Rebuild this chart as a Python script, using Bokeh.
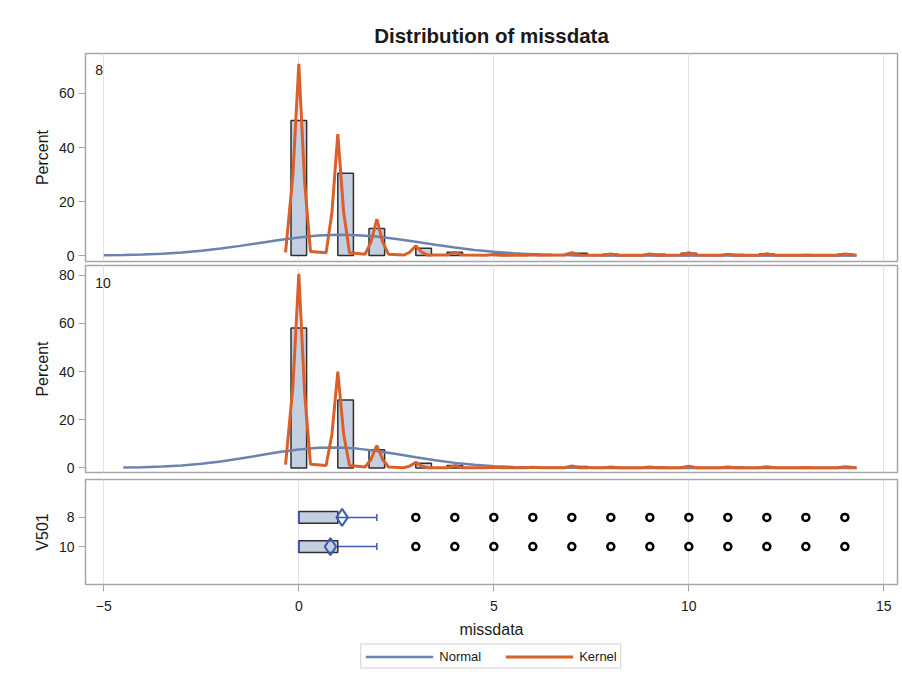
from bokeh.plotting import figure
from bokeh.layouts import column
from bokeh.models import (Range1d, FactorRange, Label, Legend, LegendItem,
                          Grid, FixedTicker)
from bokeh.embed import file_html
from bokeh.resources import INLINE

# ---------------- data ----------------
X_TICKS = [-5, 0, 5, 10, 15]
GROUPS = ["8", "10"]

BIN_MIDS = [0.0, 1.2, 2.0, 3.2, 4.0, 5.2, 6.0, 7.2, 8.0, 9.2, 10.0, 11.2, 12.0, 13.2, 14.0]
BIN_WIDTH = 0.4
PCT_8 = [50.0, 30.5, 10.0, 2.7, 1.2, 0.6, 0.5, 0.9, 0.5, 0.5, 0.9, 0.4, 0.6, 0.2, 0.5]
PCT_10 = [58.1, 28.2, 7.5, 1.9, 1.0, 0.3, 0.3, 0.6, 0.3, 0.3, 0.5, 0.3, 0.4, 0.1, 0.3]

NORM_X_8 = [-5.0, -4.5, -4.0, -3.5, -3.0, -2.5, -2.0, -1.5, -1.0, -0.5, 0.0, 0.5, 1.0, 1.5,
            2.0, 2.5, 3.0, 3.5, 4.0, 4.5, 5.0, 5.5, 6.0, 6.5, 7.0, 7.5, 8.0, 9.0, 10.0,
            11.0, 12.0, 13.0, 14.3]
NORM_Y_8 = [0.11, 0.22, 0.40, 0.70, 1.15, 1.77, 2.59, 3.58, 4.67, 5.76, 6.71, 7.39, 7.69, 7.56,
            7.02, 6.17, 5.11, 4.01, 2.97, 2.08, 1.37, 0.86, 0.51, 0.28, 0.15, 0.07, 0.03, 0.01, 0.0,
            0.0, 0.0, 0.0, 0.0]
NORM_X_10 = [-4.5, -4.0, -3.5, -3.0, -2.5, -2.0, -1.5, -1.0, -0.5, 0.0, 0.5, 1.0, 1.5,
             2.0, 2.5, 3.0, 3.5, 4.0, 4.5, 5.0, 5.5, 6.0, 6.5, 7.0, 7.5, 8.0, 9.0, 10.0,
             11.0, 12.0, 13.0, 14.3]
NORM_Y_10 = [0.15, 0.31, 0.58, 1.05, 1.74, 2.69, 3.89, 5.24, 6.57, 7.67, 8.35, 8.47, 8.01,
             7.05, 5.78, 4.42, 3.15, 2.09, 1.29, 0.74, 0.40, 0.20, 0.10, 0.04, 0.02, 0.01, 0.0, 0.0,
             0.0, 0.0, 0.0, 0.0]

KERN_X = [-0.34, -0.15, 0.0, 0.15, 0.3, 0.7, 0.85, 1.0, 1.15, 1.3, 1.7, 1.85, 2.0, 2.15, 2.3,
          2.7, 2.85, 3.0, 3.15, 3.3, 3.8, 4.0, 4.2, 4.8, 5.0, 5.2, 5.8, 6.0, 6.2, 6.8, 7.0, 7.2,
          7.8, 8.0, 8.2, 8.8, 9.0, 9.2, 9.8, 10.0, 10.2, 10.8, 11.0, 11.2, 11.8, 12.0, 12.2,
          12.8, 13.0, 13.2, 13.8, 14.0, 14.3]
KERN_Y_8 = [1.2, 30.0, 71.0, 27.0, 1.5, 1.0, 16.0, 45.0, 16.0, 1.0, 0.5, 5.0, 13.5, 5.0, 0.5,
            0.2, 1.3, 3.6, 1.3, 0.2, 0.2, 1.2, 0.2, 0.1, 0.4, 0.1, 0.1, 0.4, 0.1, 0.2, 1.1, 0.2,
            0.1, 0.6, 0.1, 0.1, 0.6, 0.1, 0.2, 1.1, 0.2, 0.1, 0.5, 0.1, 0.1, 0.7, 0.1,
            0.1, 0.2, 0.1, 0.1, 0.6, 0.1]
KERN_Y_10 = [1.4, 34.0, 80.5, 31.0, 1.5, 1.0, 14.0, 40.0, 14.0, 1.0, 0.4, 3.5, 9.3, 3.5, 0.4,
             0.1, 0.8, 2.3, 0.8, 0.1, 0.1, 0.9, 0.1, 0.1, 0.3, 0.1, 0.1, 0.3, 0.1, 0.1, 0.8, 0.1,
             0.1, 0.4, 0.1, 0.1, 0.4, 0.1, 0.1, 0.7, 0.1, 0.1, 0.4, 0.1, 0.1, 0.5, 0.1,
             0.1, 0.2, 0.1, 0.1, 0.5, 0.1]

# box plot statistics per group
Q1 = [0, 0]
MEDIAN = [0, 0]
Q3 = [1, 1]
WHISK_HI = [2, 2]
MEAN = [1.11, 0.81]
OUTLIER_VALUES = [3, 4, 5, 6, 7, 8, 9, 10, 11, 12, 13, 14]

LEGEND_LABELS = ["Normal", "Kernel"]

# ---------------- styles ----------------
FONT = "Liberation Sans"
BAR_FILL = "#c5cfe2"
BAR_LINE = "#2f2f2f"
NORMAL_C = "#6b83b0"
KERNEL_C = "#d9602a"
BOX_BLUE = "#3f5db0"
FRAME_C = "#a6a6a6"
GRID_C = "#e3e3e3"
TEXT_C = "#1a1a1a"

FRAME_W = 812
X_RANGE = Range1d(-5.469, 15.35)


def base_fig(frame_h, y_range, top, bottom, **kw):
    p = figure(frame_width=FRAME_W, frame_height=frame_h, x_range=X_RANGE, y_range=y_range,
               output_backend="svg", toolbar_location=None,
               min_border_left=85, min_border_right=3,
               min_border_top=top, min_border_bottom=bottom, **kw)
    p.outline_line_color = FRAME_C
    p.outline_line_width = 1.5
    p.grid.visible = False
    p.add_layout(Grid(dimension=0, ticker=FixedTicker(ticks=X_TICKS),
                      grid_line_color=GRID_C, grid_line_width=1))
    p.background_fill_color = "white"
    p.border_fill_color = "white"
    p.yaxis.axis_line_color = None
    p.yaxis.major_tick_line_color = FRAME_C
    p.yaxis.major_tick_out = 7
    p.yaxis.major_tick_in = 0
    p.yaxis.minor_tick_line_color = None
    p.yaxis.major_label_standoff = 4
    p.yaxis.major_label_text_font = FONT
    p.yaxis.major_label_text_font_size = "14px"
    p.yaxis.major_label_text_color = TEXT_C
    p.yaxis.axis_label_text_font = FONT
    p.yaxis.axis_label_text_font_size = "16px"
    p.yaxis.axis_label_text_font_style = "normal"
    p.yaxis.axis_label_text_color = TEXT_C
    return p


def hist_panel(frame_h, yr, top, bottom, yticks, pct, nx, ny, ky, tag, tag_y):
    p = base_fig(frame_h, yr, top, bottom, x_axis_location=None)
    p.yaxis.ticker = FixedTicker(ticks=yticks)
    p.yaxis.axis_label = "Percent"
    p.vbar(x=BIN_MIDS, width=BIN_WIDTH, top=pct, bottom=0,
           fill_color=BAR_FILL, line_color=BAR_LINE, line_width=1.5)
    p.line(nx, ny, line_color=NORMAL_C, line_width=2.5)
    p.line(KERN_X, ky, line_color=KERNEL_C, line_width=3)
    p.add_layout(Label(x=-5.22, y=tag_y, text=tag, text_baseline="top",
                       text_font=FONT, text_font_size="14px", text_color=TEXT_C))
    return p


p1 = hist_panel(208, Range1d(-2.2, 74.8), 53, 2, [0, 20, 40, 60],
                PCT_8, NORM_X_8, NORM_Y_8, KERN_Y_8, "8", 70.5)
p1.title.text = "Distribution of missdata"
p1.title.align = "center"
p1.title.text_font = FONT
p1.title.text_font_size = "20.5px"
p1.title.text_font_style = "bold"
p1.title.text_color = TEXT_C
p1.title.standoff = 14

p2 = hist_panel(207, Range1d(-1.9, 84.0), 2, 4, [0, 20, 40, 60, 80],
                PCT_10, NORM_X_10, NORM_Y_10, KERN_Y_10, "10", 79.0)

# ---------------- box panel ----------------
yr3 = FactorRange(factors=["10", "8"], range_padding=0.8, range_padding_units="absolute")
p3 = base_fig(105, yr3, 3, 0)
p3.yaxis.axis_label = "V501"
p3.xaxis.ticker = FixedTicker(ticks=X_TICKS)
p3.xaxis.axis_label = "missdata"
p3.xaxis.axis_line_color = None
p3.xaxis.major_tick_line_color = FRAME_C
p3.xaxis.major_tick_out = 7
p3.xaxis.major_tick_in = 0
p3.xaxis.minor_tick_line_color = None
p3.xaxis.major_label_text_font = FONT
p3.xaxis.major_label_text_font_size = "14px"
p3.xaxis.major_label_text_color = TEXT_C
p3.xaxis.major_label_standoff = 9
p3.xaxis.axis_label_text_font = FONT
p3.xaxis.axis_label_text_font_size = "16px"
p3.xaxis.axis_label_text_font_style = "normal"
p3.xaxis.axis_label_text_color = TEXT_C
p3.xaxis.axis_label_standoff = 7

p3.segment(x0=Q3, x1=WHISK_HI, y0=GROUPS, y1=GROUPS, line_color=BOX_BLUE, line_width=1.5)
p3.segment(x0=WHISK_HI, x1=WHISK_HI, y0=[(g, -0.12) for g in GROUPS],
           y1=[(g, 0.12) for g in GROUPS], line_color=BOX_BLUE, line_width=1.5)
p3.hbar(y=GROUPS, left=Q1, right=Q3, height=0.4, fill_color=BAR_FILL,
        line_color=BAR_LINE, line_width=1.5)
p3.segment(x0=MEDIAN, x1=MEDIAN, y0=[(g, -0.2) for g in GROUPS],
           y1=[(g, 0.2) for g in GROUPS], line_color=BOX_BLUE, line_width=2)
p3.scatter(x=MEAN, y=GROUPS, marker="diamond", size=17, fill_color=None,
           line_color=BOX_BLUE, line_width=2)
ox = [v for g in GROUPS for v in OUTLIER_VALUES]
oy = [g for g in GROUPS for v in OUTLIER_VALUES]
p3.scatter(x=ox, y=oy, marker="circle", size=7, fill_color="white",
           line_color="black", line_width=2.5)

# ---------------- legend strip ----------------
# The strip's y-range lies below every curve value, so its copies of the two
# curves stay clipped away and only serve as the legend's glyph sources.
p4 = figure(frame_width=FRAME_W, frame_height=28, x_range=X_RANGE, y_range=Range1d(-20, -10),
            output_backend="svg", toolbar_location=None,
            x_axis_location=None, y_axis_location=None,
            min_border_left=85, min_border_right=3, min_border_top=2, min_border_bottom=0)
p4.outline_line_color = None
p4.grid.visible = False
lg_n = p4.line(NORM_X_8, NORM_Y_8, line_color=NORMAL_C, line_width=2.5)
lg_k = p4.line(KERN_X, KERN_Y_8, line_color=KERNEL_C, line_width=3)
legend = Legend(items=[LegendItem(label=LEGEND_LABELS[0], renderers=[lg_n]),
                       LegendItem(label=LEGEND_LABELS[1], renderers=[lg_k])],
                orientation="horizontal", location="center",
                label_text_font=FONT, label_text_font_size="13px",
                label_text_color=TEXT_C, glyph_width=68, glyph_height=14,
                label_height=14, label_standoff=6, spacing=24, padding=4, margin=0,
                border_line_color=FRAME_C, border_line_width=1)
p4.add_layout(legend, "center")

layout = column(p1, p2, p3, p4, spacing=0)
open("out.html", "w").write(file_html(layout, INLINE))
